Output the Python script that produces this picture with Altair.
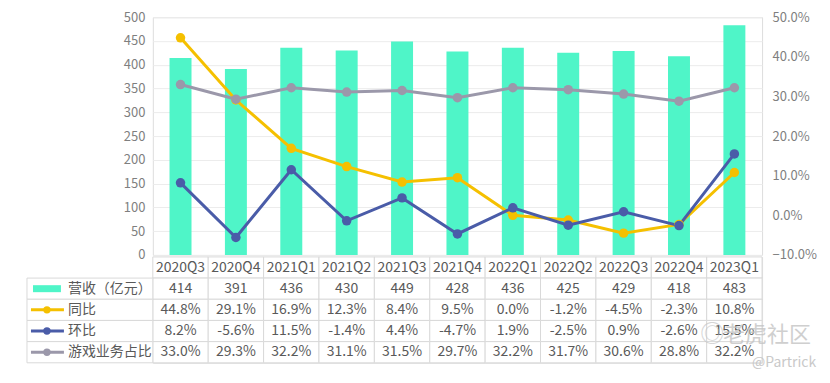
import altair as alt
import pandas as pd

# ---------------- data ----------------
quarters = ["2020Q3", "2020Q4", "2021Q1", "2021Q2", "2021Q3", "2021Q4",
            "2022Q1", "2022Q2", "2022Q3", "2022Q4", "2023Q1"]
revenue = [414, 391, 436, 430, 449, 428, 436, 425, 429, 418, 483]
yoy = [44.8, 29.1, 16.9, 12.3, 8.4, 9.5, 0.0, -1.2, -4.5, -2.3, 10.8]
qoq = [8.2, -5.6, 11.5, -1.4, 4.4, -4.7, 1.9, -2.5, 0.9, -2.6, 15.5]
game_share = [33.0, 29.3, 32.2, 31.1, 31.5, 29.7, 32.2, 31.7, 30.6, 28.8, 32.2]
row_names = ["营收（亿元）", "同比", "环比", "游戏业务占比"]
watermark = ["老虎社区", "@Partrick"]

# ---------------- styles ----------------
TEAL = "#4ff5c8"
GOLD = "#f5c000"
NAVY = "#4a5ca8"
GRAY = "#9b98aa"
FONT = "Noto Sans CJK SC"
TXT = "#595959"
AXT = "#7f7f7f"
BORDER = "#d9d9d9"
WM = "#c4c4c4"
style_colors = {"营收（亿元）": TEAL, "同比": GOLD, "环比": NAVY, "游戏业务占比": GRAY}

W = 610
H = 238
TH = 106

# ---------------- top chart ----------------
rev_df = pd.DataFrame({"quarter": quarters, "revenue": revenue})
series = [("同比", yoy), ("环比", qoq), ("游戏业务占比", game_share)]
line_rows = []
for name, vals in series:
    for q, v in zip(quarters, vals):
        line_rows.append({"quarter": q, "series": name, "value": v})
line_df = pd.DataFrame(line_rows)

xscale = alt.Scale(domain=quarters, paddingInner=0, paddingOuter=0)
x_enc = alt.X("quarter:N", scale=xscale, axis=None, sort=quarters)

bars = alt.Chart(rev_df).mark_bar(color=TEAL, size=22).encode(
    x=x_enc,
    y=alt.Y("revenue:Q",
            scale=alt.Scale(domain=[0, 500], nice=False),
            axis=alt.Axis(values=list(range(0, 501, 50)), title=None, domain=False,
                          ticks=False, grid=True, gridColor="#ececec",
                          labelColor=AXT, labelFont=FONT, labelFontSize=13,
                          labelPadding=8)),
)

color_scale = alt.Scale(domain=["同比", "环比", "游戏业务占比"], range=[GOLD, NAVY, GRAY])
lines = alt.Chart(line_df).mark_line(
    strokeWidth=3, point=alt.OverlayMarkDef(filled=True, size=90, opacity=1)
).encode(
    x=x_enc,
    y=alt.Y("value:Q",
            scale=alt.Scale(domain=[-10, 50], nice=False),
            axis=alt.Axis(orient="right", values=list(range(-10, 51, 10)),
                          labelExpr="format(datum.value, '.1f') + '%'",
                          title=None, domain=False, ticks=False, grid=False,
                          labelColor=AXT, labelFont=FONT, labelFontSize=13,
                          labelPadding=10)),
    color=alt.Color("series:N", scale=color_scale, legend=None),
)

top = alt.layer(bars, lines).resolve_scale(y="independent").properties(width=W, height=H)

# ---------------- table ----------------
HDR = "季度"
cells = []
for i, q in enumerate(quarters):
    cells.append({"quarter": q, "row": HDR, "text": q})
    cells.append({"quarter": q, "row": row_names[0], "text": f"{revenue[i]}"})
    cells.append({"quarter": q, "row": row_names[1], "text": f"{yoy[i]:.1f}%"})
    cells.append({"quarter": q, "row": row_names[2], "text": f"{qoq[i]:.1f}%"})
    cells.append({"quarter": q, "row": row_names[3], "text": f"{game_share[i]:.1f}%"})
cell_df = pd.DataFrame(cells)

yscale = alt.Scale(domain=[HDR] + row_names, paddingInner=0, paddingOuter=0)
y_enc = alt.Y("row:N", scale=yscale, axis=None)
y_mid = alt.Y("row:N", scale=yscale, axis=None, bandPosition=0.5)

cell_rects = alt.Chart(cell_df).mark_rect(fill="white", stroke=BORDER, strokeWidth=1).encode(
    x=x_enc, y=y_enc)
cell_text = alt.Chart(cell_df).mark_text(font=FONT, fontSize=14, color=TXT).encode(
    x=x_enc, y=y_enc, text="text:N")

leg_df = pd.DataFrame({"row": row_names, "c": [style_colors[r] for r in row_names]})
leg_rects = alt.Chart(leg_df).mark_rect(fill="white", stroke=BORDER, strokeWidth=1).encode(
    x=alt.value(-126), x2=alt.value(0), y=y_enc)
leg_bar = alt.Chart(leg_df[leg_df["row"] == row_names[0]]).mark_rule(
    strokeWidth=7, strokeCap="butt").encode(
    x=alt.value(-120), x2=alt.value(-92), y=y_mid,
    color=alt.Color("c:N", scale=None))
line_leg_df = leg_df[leg_df["row"] != row_names[0]]
leg_line = alt.Chart(line_leg_df).mark_rule(strokeWidth=3).encode(
    x=alt.value(-122), x2=alt.value(-89), y=y_mid,
    color=alt.Color("c:N", scale=None))
leg_pt = alt.Chart(line_leg_df).mark_circle(size=55, opacity=1).encode(
    x=alt.value(-106), y=y_enc, color=alt.Color("c:N", scale=None))
leg_text = alt.Chart(leg_df).mark_text(align="left", font=FONT, fontSize=14, color=TXT).encode(
    x=alt.value(-85), y=y_enc, text="row:N")

wm1 = alt.Chart(pd.DataFrame({"t": [watermark[0]]})).mark_text(
    font=FONT, fontSize=22, color=WM, opacity=0.8, align="left").encode(
    x=alt.value(571), y=alt.value(78), text="t:N")
wm_logo = alt.Chart(pd.DataFrame({"t": ["◎"]})).mark_text(
    font=FONT, fontSize=24, color=WM, opacity=0.7).encode(
    x=alt.value(560), y=alt.value(78), text="t:N")
wm2 = alt.Chart(pd.DataFrame({"t": [watermark[1]]})).mark_text(
    font=FONT, fontSize=14, color=WM, opacity=0.9, align="left").encode(
    x=alt.value(600), y=alt.value(106), text="t:N")

table = alt.layer(cell_rects, cell_text, leg_rects, leg_bar, leg_line, leg_pt, leg_text,
                  wm_logo, wm1, wm2).properties(width=W, height=TH)

chart = alt.vconcat(top, table, spacing=2, bounds="flush").properties(
    padding={"left": 18, "top": 2, "right": 5, "bottom": 5}
).configure_view(stroke=None).configure(background="white")

chart.save("out.html", embed_options={"renderer": "svg", "actions": False})
